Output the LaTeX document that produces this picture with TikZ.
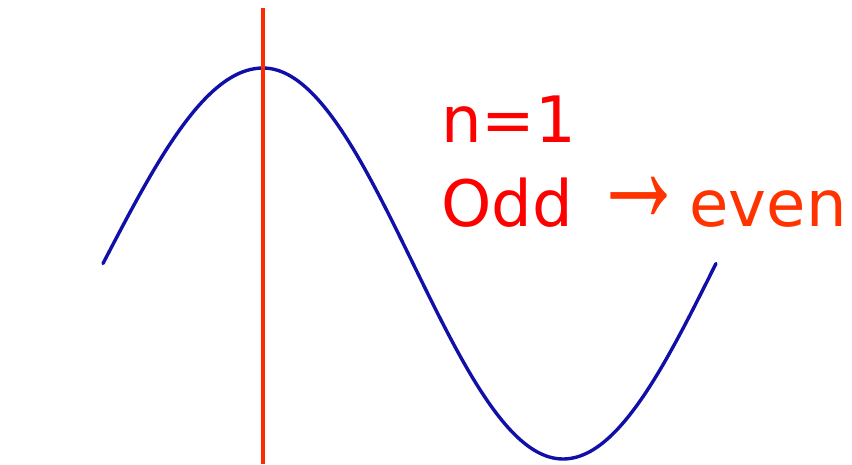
\documentclass[tikz,border=0pt]{standalone}
\usepackage{fontspec}
\setmainfont{DejaVu Sans}
\newfontfamily\arrowfont{Liberation Sans}
\definecolor{curveblue}{HTML}{1010A8}
\definecolor{linered}{HTML}{FF2A00}
\definecolor{txtred}{HTML}{FF0000}
\definecolor{txtorange}{HTML}{FF3300}
\tikzset{
  wave/.style={draw=curveblue, line width=3.4pt, line join=round, line cap=round},
  vline/.style={draw=linered, line width=3.4pt},
  label/.style={anchor=base west, inner sep=0pt, font=\fontsize{64}{70}\selectfont}
}
\begin{document}
\begin{tikzpicture}[x=1pt,y=-1pt]
\useasboundingbox (0,0) rectangle (852,464);
\fill[white] (0,0) rectangle (852,464);
% wave
\draw[wave]
  plot[domain=0:1,samples=40,smooth] ({103+160*\x},{263.5-195.5*sin(90*\x)})
  -- plot[domain=0:1,samples=60,smooth] ({263+300*\x},{263.5-195.5*cos(180*\x)})
  -- plot[domain=0:1,samples=40,smooth] ({563+153*\x},{263.5-195.5*cos(90*\x+180)});
% vertical line
\coordinate (vtop) at (263,8);
\coordinate (vbot) at (263,464);
\draw[vline] (vtop) -- (vbot);
% texts
\node[label, text=txtred] (n) at (441,142) {n=1};
\node[label, text=txtred] (odd) at (441,226) {Odd};
\node[inner sep=0pt, text=txtorange, font=\arrowfont\fontsize{100}{110}\selectfont] (arr) at (639,200) {\scalebox{0.95}[1.6]{→}};
\node[label, text=txtorange, anchor=base east] (even) at (847,226) {even};
\end{tikzpicture}
\end{document}
